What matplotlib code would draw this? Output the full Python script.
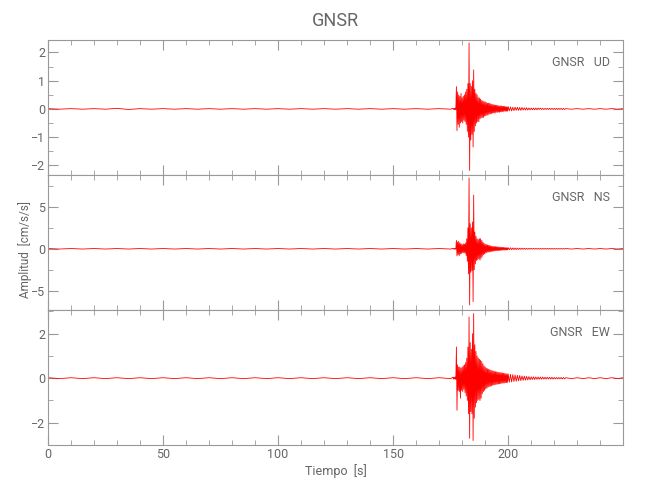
import numpy as np
import matplotlib.pyplot as plt
from matplotlib.ticker import MultipleLocator

plt.rcParams['font.family'] = ['Roboto', 'DejaVu Sans']

estacion = 'GNSR'
componentes = ['UD', 'NS', 'EW']

# ruido antes del evento, cada 5 s desde 0 hasta 175
ud_pre = [0.01, -0.01, 0.01, -0.01, 0.01, -0.01, 0.02, -0.02, 0.01, -0.01, 0.01, -0.01,
          0.01, -0.01, 0.01, -0.01, 0.01, -0.01, 0.01, -0.01, 0.01, -0.01, 0.01, -0.01,
          0.01, -0.01, 0.01, -0.01, 0.01, -0.01, 0.01, -0.01, 0.01, -0.01, 0.01, -0.01]
ns_pre = [0.03, -0.03, 0.03, -0.03, 0.03, -0.03, 0.03, -0.03, 0.03, -0.03, 0.03, -0.03,
          0.03, -0.03, 0.03, -0.03, 0.03, -0.03, 0.03, -0.03, 0.03, -0.03, 0.03, -0.03,
          0.03, -0.03, 0.03, -0.03, 0.03, -0.03, 0.03, -0.03, 0.03, -0.03, 0.03, -0.03]
ew_pre = [0.02, -0.02, 0.02, -0.02, 0.02, -0.02, 0.02, -0.02, 0.02, -0.02, 0.02, -0.02,
          0.02, -0.02, 0.02, -0.02, 0.02, -0.02, 0.02, -0.02, 0.02, -0.02, 0.02, -0.02,
          0.02, -0.02, 0.02, -0.02, 0.02, -0.02, 0.02, -0.02, 0.02, -0.02, 0.02, -0.02]

# evento, cada 0.25 s desde 176.0 hasta 199.75
ud_ev = [0.02, -0.02, 0.02, -0.03, 0.03, -0.02, 0.79, -0.77, 0.6, -0.55, 0.5, -0.65,
         0.45, -0.5, 0.55, -0.45, 0.4, -0.5, 0.45, -0.4, 0.5, -0.45, 0.6, -0.55,
         0.7, -0.8, 0.9, -1.0, 2.34, -2.18, 0.9, -1.1, 0.8, -0.9, 1.0, -1.35,
         1.38, -0.8, 0.7, -0.6, 0.55, -0.5, 0.5, -0.45, 0.4, -0.45, 0.38, -0.35,
         0.35, -0.32, 0.3, -0.3, 0.28, -0.3, 0.26, -0.25, 0.25, -0.24, 0.22, -0.22,
         0.2, -0.22, 0.2, -0.18, 0.2, -0.18, 0.17, -0.16, 0.16, -0.15, 0.15, -0.14,
         0.14, -0.15, 0.13, -0.12, 0.13, -0.12, 0.12, -0.11, 0.11, -0.12, 0.1, -0.1,
         0.11, -0.1, 0.09, -0.1, 0.09, -0.08, 0.09, -0.08, 0.08, -0.08, 0.07, -0.08]
ns_ev = [0.05, -0.04, 0.05, -0.05, 0.06, -0.05, 1.0, -0.85, 0.8, -0.7, 0.9, -0.8,
         0.7, -0.6, 0.6, -0.55, 0.5, -0.45, 0.6, -0.5, 0.55, -0.5, 0.7, -0.8,
         1.2, -1.5, 2.5, -3.0, 8.45, -6.7, 3.0, -2.8, 2.5, -2.6, 3.2, -6.3,
         6.4, -2.5, 2.0, -1.8, 1.5, -1.4, 1.2, -1.3, 1.1, -1.2, 1.2, -1.35,
         1.2, -1.1, 1.0, -0.9, 0.8, -0.7, 0.65, -0.6, 0.55, -0.5, 0.5, -0.45,
         0.45, -0.4, 0.4, -0.38, 0.4, -0.35, 0.33, -0.3, 0.3, -0.3, 0.28, -0.27,
         0.26, -0.25, 0.25, -0.24, 0.24, -0.22, 0.22, -0.2, 0.2, -0.2, 0.19, -0.18,
         0.18, -0.17, 0.17, -0.16, 0.16, -0.15, 0.15, -0.15, 0.14, -0.14, 0.13, -0.13]
ew_ev = [0.04, -0.04, 0.05, -0.04, 0.05, -0.05, 1.4, -1.44, 0.6, -0.55, 0.5, -0.6,
         0.5, -0.9, 0.45, -0.55, 0.5, -0.6, 0.55, -0.5, 0.6, -0.65, 0.7, -0.8,
         0.9, -1.0, 1.4, -1.6, 2.75, -2.7, 1.6, -1.5, 1.3, -1.6, 2.0, -2.8,
         2.9, -1.8, 1.5, -1.3, 1.2, -1.1, 1.0, -1.0, 0.9, -0.95, 0.85, -1.0,
         0.8, -0.9, 0.75, -0.7, 0.65, -0.6, 0.55, -0.55, 0.5, -0.48, 0.45, -0.45,
         0.42, -0.4, 0.4, -0.38, 0.38, -0.36, 0.35, -0.34, 0.34, -0.32, 0.32, -0.3,
         0.3, -0.3, 0.29, -0.28, 0.28, -0.27, 0.27, -0.26, 0.26, -0.25, 0.25, -0.24,
         0.24, -0.23, 0.23, -0.22, 0.22, -0.22, 0.21, -0.2, 0.2, -0.2, 0.19, -0.19]

# coda, cada 0.5 s desde 200 hasta 224.5
ud_coda = [0.08, -0.07, 0.07, -0.07, 0.06, -0.06, 0.06, -0.05, 0.06, -0.05,
           0.05, -0.05, 0.05, -0.04, 0.04, -0.04, 0.04, -0.04, 0.03, -0.03,
           0.03, -0.03, 0.03, -0.03, 0.03, -0.03, 0.03, -0.02, 0.03, -0.02,
           0.02, -0.02, 0.02, -0.02, 0.02, -0.02, 0.02, -0.02, 0.02, -0.02,
           0.02, -0.02, 0.02, -0.02, 0.02, -0.02, 0.02, -0.02, 0.02, -0.02]
ns_coda = [0.13, -0.12, 0.12, -0.11, 0.1, -0.1, 0.09, -0.09, 0.08, -0.08,
           0.07, -0.07, 0.07, -0.06, 0.06, -0.06, 0.05, -0.05, 0.05, -0.05,
           0.05, -0.04, 0.04, -0.04, 0.04, -0.04, 0.04, -0.04, 0.04, -0.04,
           0.04, -0.04, 0.04, -0.04, 0.04, -0.04, 0.04, -0.04, 0.04, -0.04,
           0.03, -0.03, 0.03, -0.03, 0.03, -0.03, 0.03, -0.03, 0.03, -0.03]
ew_coda = [0.19, -0.18, 0.17, -0.17, 0.16, -0.15, 0.14, -0.14, 0.13, -0.12,
           0.12, -0.11, 0.1, -0.1, 0.09, -0.09, 0.08, -0.08, 0.07, -0.07,
           0.06, -0.06, 0.06, -0.06, 0.05, -0.05, 0.05, -0.05, 0.05, -0.05,
           0.05, -0.04, 0.04, -0.04, 0.04, -0.04, 0.04, -0.04, 0.04, -0.04,
           0.03, -0.03, 0.03, -0.03, 0.03, -0.03, 0.03, -0.03, 0.03, -0.03]

# final, cada 2.5 s desde 225 hasta 250
ud_fin = [0.01, -0.01, 0.01, -0.01, 0.01, -0.01, 0.01, -0.01, 0.01, -0.01, 0.01]
ns_fin = [0.03, -0.03, 0.03, -0.03, 0.03, -0.03, 0.03, -0.03, 0.03, -0.03, 0.03]
ew_fin = [0.02, -0.02, 0.02, -0.02, 0.02, -0.02, 0.02, -0.02, 0.02, -0.02, 0.02]

trazas = [(ud_pre, ud_ev, ud_coda, ud_fin), (ns_pre, ns_ev, ns_coda, ns_fin),
          (ew_pre, ew_ev, ew_coda, ew_fin)]
ylims = [(-2.34, 2.44), (-7.3, 8.8), (-3.0, 3.06)]
yticks_mayor = [1, 5, 2]
yticks_menor = [0.5, 2.5, 1]

gris = '#666666'
fig = plt.figure(figsize=(6.5, 5), dpi=100)
left, width = 48 / 650, 575 / 650
tops = [40, 175, 310]
axes = []
for i in range(3):
    bottom = 1 - (tops[i] + 135) / 500
    ax = fig.add_axes([left, bottom, width, 135 / 500])
    pre, ev, coda, fin = trazas[i]
    t = np.concatenate([np.arange(len(pre)) * 5.0,
                        176.0 + np.arange(len(ev)) * 0.25,
                        200.0 + np.arange(len(coda)) * 0.5,
                        225.0 + np.arange(len(fin)) * 2.5])
    y = np.concatenate([pre, ev, coda, fin])
    ax.plot(t, y, color='red', lw=0.6)
    ax.set_xlim(0, 249.9)
    ax.set_ylim(*ylims[i])
    ax.yaxis.set_major_locator(MultipleLocator(yticks_mayor[i]))
    ax.yaxis.set_minor_locator(MultipleLocator(yticks_menor[i]))
    ax.xaxis.set_major_locator(MultipleLocator(50))
    ax.xaxis.set_minor_locator(MultipleLocator(10))
    ax.tick_params(which='both', direction='in', top=True, right=True,
                   color='#999999', labelcolor=gris, labelsize=9, pad=2)
    ax.tick_params(which='major', length=7)
    ax.tick_params(which='minor', length=3.5)
    for s in ax.spines.values():
        s.set_color('#999999')
    if i < 2:
        ax.tick_params(labelbottom=False)
    ax.text(0.977, 0.835, estacion + '   ' + componentes[i], transform=ax.transAxes,
            ha='right', va='center', fontsize=9, color=gris)
    axes.append(ax)

axes[0].set_title(estacion, fontsize=13, color=gris, pad=10)
axes[2].set_xlabel('Tiempo  [s]', fontsize=9, color=gris, labelpad=2)
fig.text(25 / 650, 1 - 250 / 500, 'Amplitud  [cm/s/s]', rotation=90,
         ha='center', va='center', fontsize=8.5, color=gris)

fig.savefig('out.png', dpi=100)
